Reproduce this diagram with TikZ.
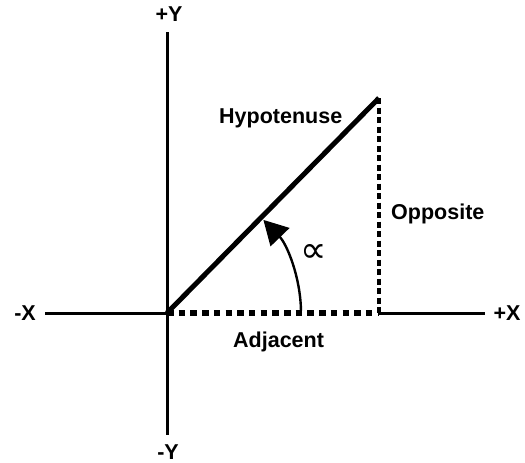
\documentclass[tikz,border=0pt]{standalone}
\usepackage{fontspec}
\setmainfont{Liberation Sans}
\newfontfamily\symfont{DejaVu Sans}
\usetikzlibrary{arrows.meta}
\begin{document}
\begin{tikzpicture}[x=1pt,y=-1pt,
  lbl/.style={font=\fontsize{21.5}{24}\selectfont\bfseries, inner sep=0pt},
  axis/.style={line width=3pt},
  hyp/.style={line width=5pt},
  adjline/.style={line width=6pt, dash pattern=on 6.5pt off 5.2pt},
  oppline/.style={line width=3.2pt, dash pattern=on 6pt off 3.5pt},
  anglearrow/.style={line width=2.4pt, -{Triangle[length=24pt,width=26pt]}}]
\useasboundingbox (0,0) rectangle (525,463);
\coordinate (O) at (167,313);
\coordinate (ytop) at (167,32);
\coordinate (ybot) at (167,435);
\coordinate (xleft) at (45,313);
\coordinate (xright) at (485,313);
\coordinate (P) at (379,98);
\coordinate (Q) at (379,313);
\draw[axis] (ytop) -- (ybot);
\draw[axis] (xleft) -- (O);
\draw[axis] (Q) -- (xright);
\draw[adjline] (O) -- (Q);
\draw[oppline] (P) -- (Q);
\draw[hyp] (O) -- (P);
\draw[anglearrow] ([shift={(-1:134)}]O) arc[start angle=-1,end angle=-44,radius=134];
\node[lbl] (py) at (169,14.5) {+Y};
\node[lbl] (my) at (168,452) {-Y};
\node[lbl] (mx) at (25,313) {-X};
\node[lbl] (px) at (507,313) {+X};
\node[lbl, anchor=base west] (h) at (219,123) {Hypotenuse};
\node[lbl, anchor=base west] (o) at (391,219) {Opposite};
\node[lbl, anchor=base west] (a) at (233,347) {Adjacent};
\node[inner sep=0pt] (al) at (314,253) {\symfont\fontsize{37}{40}\selectfont ∝};
\end{tikzpicture}
\end{document}
